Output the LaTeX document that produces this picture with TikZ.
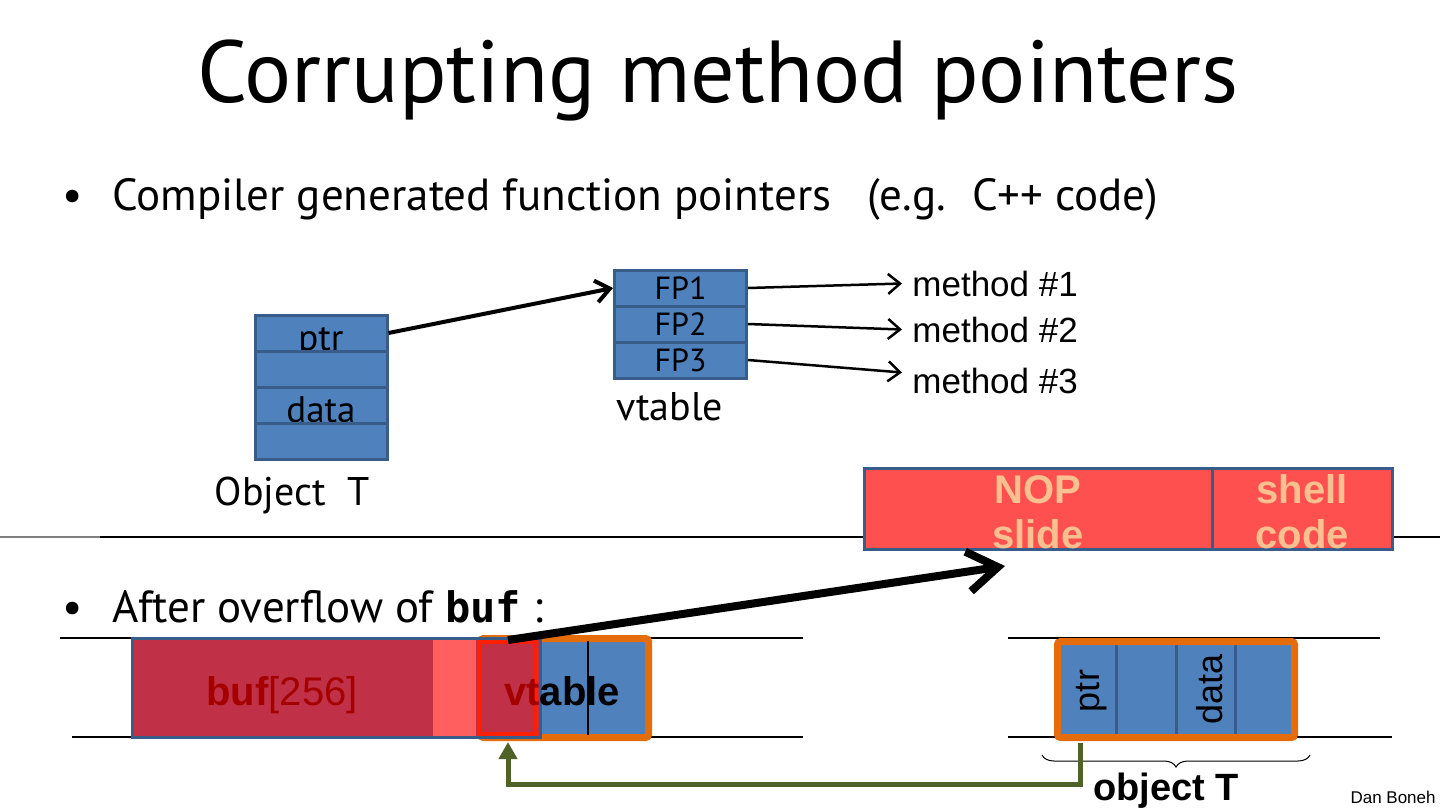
\documentclass[tikz,border=0pt]{standalone}
\usepackage{fontspec}
\setmainfont{PT Sans}
\newfontfamily\arialfont{Liberation Sans}
\newfontfamily\codefont{DejaVu Sans Mono}
\usetikzlibrary{arrows.meta, decorations.pathreplacing}

\definecolor{cellblue}{RGB}{79,129,189}
\definecolor{celledge}{RGB}{56,93,138}
\definecolor{bufred}{RGB}{192,49,72}
\definecolor{padred}{RGB}{255,95,95}
\definecolor{hotred}{RGB}{255,32,0}
\definecolor{nopred}{RGB}{255,80,80}
\definecolor{peach}{RGB}{250,192,144}
\definecolor{objorange}{RGB}{228,108,10}
\definecolor{ptrgreen}{RGB}{79,98,40}
\definecolor{txtred}{RGB}{165,0,0}

\begin{document}
\begin{tikzpicture}[x=0.5pt, y=-0.5pt,
    cell/.style={draw=celledge, fill=cellblue, line width=1.5pt,
        minimum width=66pt, minimum height=18pt, inner sep=0pt,
        text height=17pt, text depth=0pt, font=\fontsize{18.5}{18.5}\selectfont},
    fpcell/.style={cell, text height=11.5pt, font=\fontsize{16}{16}\selectfont},
    lbl/.style={anchor=base, inner sep=0pt, font=\fontsize{20}{20}\selectfont},
    bullet/.style={anchor=base west, inner sep=0pt, font=\fontsize{22.5}{22.5}\selectfont},
    meth/.style={anchor=base west, inner sep=0pt, font=\arialfont\fontsize{17.5}{17.5}\selectfont},
    methline/.style={line width=1.25pt, -{Straight Barb[length=6pt, width=10pt]}},
    slot/.style={draw=celledge, fill=nopred, line width=1.5pt, minimum height=40.5pt, inner sep=0pt},
    slottxt/.style={anchor=base, inner sep=0pt, align=center, text=peach,
        font=\arialfont\bfseries\fontsize{20}{22.5}\selectfont},
    mem/.style={line width=0.8pt},
    objbox/.style={draw=objorange, line width=3.5pt, rounded corners=1.5pt, inner sep=0pt},
    word/.style={draw=celledge, fill=cellblue, line width=1.5pt, inner sep=0pt,
        minimum width=29.625pt, minimum height=48pt},
    wordtxt/.style={rotate=90, inner sep=0pt, font=\arialfont\fontsize{18}{18}\selectfont},
    bold20/.style={anchor=base, inner sep=0pt, font=\arialfont\bfseries\fontsize{20}{20}\selectfont},
    ]
    \useasboundingbox (0,0) rectangle (1440,810);

    \node[anchor=base, inner sep=0pt, font=\fontsize{44}{44}\selectfont] (title) at (718,102)
        {Corrupting method pointers};
    \node[bullet] (b1) at (62,210) {•};
    \node[bullet] (t1) at (112,210) {Compiler generated function pointers\hspace{18pt}(e.g.\hspace{13pt}C++ code)};

    \foreach \i/\t in {0/ptr, 1/, 2/data, 3/}
        \node[cell] (o\i) at (321, 333+36*\i) {\t};
    \node[lbl] (objname) at (292,505) {Object\ \ T};

    \foreach \i in {1,2,3}
        \node[fpcell] (fp\i) at (680.5, 252+36*\i) {FP\i};
    \node[lbl] (vtname) at (670,420) {vtable};

    \draw[line width=2pt, -{Straight Barb[length=7pt, width=11pt]}] (o0.east) -- (fp1.west);

    \foreach \i/\y in {1/296, 2/342, 3/393}
        \node[meth] (m\i) at (912,\y) {method \#\i};
    \draw[methline] (fp1.east) -- ([xshift=-5pt]m1.west);
    \draw[methline] (fp2.east) -- ([xshift=-5pt]m2.west);
    \draw[methline] (fp3.east) -- ([xshift=-5pt, yshift=4pt]m3.west);

    \draw[line width=1pt, gray] (0,537) -- (100,537);
    \draw[line width=1pt] (100,537) -- (1440,537);

    \node[slot, minimum width=174pt] (nop) at (1038,508.5) {};
    \node[slot, minimum width=90pt] (shell) at (1302,508.5) {};
    \node[slottxt] (noptxt) at (1038,548) {NOP\\slide};
    \node[slottxt] (shelltxt) at (1302,548) {shell\\code};

    \node[bullet] (b2) at (62,622) {•};
    \node[bullet] (t2) at (112,622)
        {After overflow of\ {\codefont\bfseries\fontsize{21}{21}\selectfont buf}\ :};

    \draw[mem] (60,638) -- (803,638);
    \draw[mem] (72,737) -- (803,737);
    \draw[mem] (1008,638) -- (1380,638);
    \draw[mem] (1008,737) -- (1392,737);

    \node[objbox, fill=cellblue, minimum width=84pt, minimum height=49.5pt] (vt) at (564.5,688) {};
    \node[draw=celledge, fill=bufred, line width=1.5pt, inner sep=0pt,
        minimum width=204pt, minimum height=49.5pt] (buf) at (336,687.5) {};
    \node[fill=padred, inner sep=0pt, minimum width=21.5pt, minimum height=48pt] (pad) at (454.5,687.5) {};
    \node[draw=hotred, line width=2pt, inner sep=0pt, minimum width=28pt, minimum height=46pt] (vtp) at (508,688) {};
    \draw[line width=0.6pt] (588,641) -- (588,735);
    \node[anchor=base, inner sep=0pt, font=\arialfont\fontsize{20}{20}\selectfont, text=txtred]
        (buftxt) at (282,705) {\textbf{buf}[256]};
    \node[bold20] (vttxt) at (562,705) {\textcolor{txtred}{vt}able};

    \coordinate (hit) at (1005,566);
    \draw[line width=4pt, -{Straight Barb[length=15pt, width=20pt]}] (vtp.north) -- (hit);

    \foreach \i in {0,...,3}
        \node[word] (r\i) at (1087.125+59.25*\i, 689.5) {};
    \node[objbox, minimum width=118.5pt, minimum height=48pt] (objT) at (1176,689.5) {};
    \node[wordtxt] (ptrtxt) at (1092,691) {ptr};
    \node[wordtxt] (datatxt) at (1210,689) {data};

    \draw[decorate, decoration={brace, mirror, amplitude=6pt}, line width=0.5pt]
        ([xshift=-6pt, yshift=-7pt]objT.south west) -- ([xshift=6pt, yshift=-7pt]objT.south east);
    \node[bold20, font=\arialfont\bfseries\fontsize{19}{19}\selectfont] (objTname) at (1166,800) {object T};

    \draw[ptrgreen, line width=2.5pt, -{Triangle[length=8.5pt, width=9pt]}]
        ([xshift=-3.5pt, yshift=-1.75pt]r0.south) -- ++(0,42) -| ([yshift=-3pt]vtp.south);

    \node[anchor=base east, inner sep=0pt, font=\arialfont\fontsize{8.5}{8.5}\selectfont] (credit) at (1436,803) {Dan Boneh};
\end{tikzpicture}
\end{document}
